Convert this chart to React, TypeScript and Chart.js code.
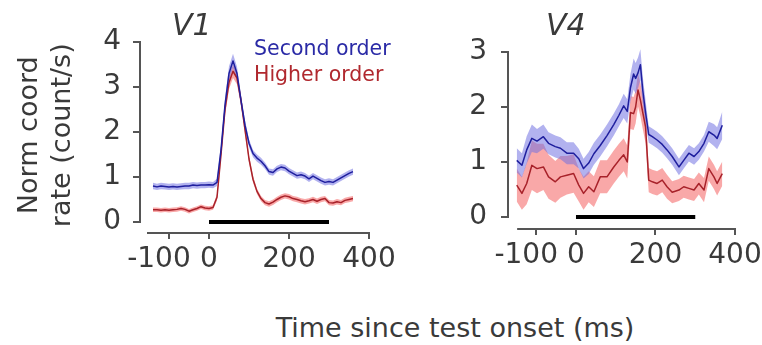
import React, { useEffect, useRef } from "react";
import { Chart, registerables } from "chart.js";

Chart.register(...registerables);

const FONT = "'DejaVu Sans', 'Liberation Sans', Arial, sans-serif";
const TEXT = "#3a3a3a";
const AXIS = "#555555";
const BLUE = "#1f1f9e";
const RED = "#a8222a";
const BLUE_BAND = "rgba(115,115,225,0.55)";
const RED_BAND = "rgba(245,110,110,0.6)";
const TICK_FONT = 28;

const xTicks = [-100, 0, 200, 400];
const v1YTicks = [0, 1, 2, 3, 4];
const v4YTicks = [0, 1, 2, 3];
const stimulusBar = [0, 300];

const v1Times = [-140, -130, -120, -110, -100, -90, -80, -70, -60, -50, -40, -30, -20, -10, 0, 10, 20, 30, 40, 50, 60, 70, 80, 90, 100, 110, 120, 130, 140, 150, 160, 170, 180, 190, 200, 210, 220, 230, 240, 250, 260, 270, 280, 290, 300, 310, 320, 330, 340, 350, 360];
const v1Second = [0.80, 0.78, 0.80, 0.79, 0.78, 0.79, 0.78, 0.79, 0.80, 0.80, 0.82, 0.81, 0.82, 0.82, 0.83, 0.82, 0.88, 1.60, 2.60, 3.30, 3.58, 3.30, 2.70, 2.15, 1.75, 1.52, 1.42, 1.35, 1.25, 1.12, 1.10, 1.18, 1.22, 1.20, 1.13, 1.08, 1.03, 1.05, 1.02, 0.96, 1.02, 0.97, 0.92, 0.88, 0.90, 0.88, 0.93, 0.98, 1.03, 1.08, 1.12];
const v1SecondSem = [0.07, 0.07, 0.07, 0.07, 0.07, 0.07, 0.07, 0.07, 0.07, 0.07, 0.07, 0.07, 0.07, 0.07, 0.07, 0.07, 0.08, 0.12, 0.15, 0.16, 0.16, 0.15, 0.13, 0.11, 0.09, 0.08, 0.08, 0.08, 0.07, 0.07, 0.07, 0.07, 0.07, 0.07, 0.07, 0.07, 0.07, 0.07, 0.07, 0.07, 0.07, 0.07, 0.07, 0.07, 0.07, 0.07, 0.07, 0.07, 0.07, 0.07, 0.07];
const v1Higher = [0.27, 0.27, 0.26, 0.27, 0.26, 0.27, 0.28, 0.30, 0.28, 0.24, 0.27, 0.30, 0.34, 0.31, 0.30, 0.32, 0.55, 1.50, 2.50, 3.10, 3.35, 3.20, 2.70, 2.05, 1.40, 0.95, 0.68, 0.52, 0.43, 0.40, 0.44, 0.50, 0.55, 0.58, 0.56, 0.52, 0.50, 0.47, 0.45, 0.47, 0.50, 0.46, 0.50, 0.52, 0.43, 0.42, 0.45, 0.43, 0.48, 0.50, 0.52];
const v1HigherSem = [0.05, 0.05, 0.05, 0.05, 0.05, 0.05, 0.05, 0.05, 0.05, 0.05, 0.05, 0.05, 0.05, 0.05, 0.05, 0.05, 0.07, 0.11, 0.14, 0.15, 0.15, 0.14, 0.12, 0.10, 0.08, 0.07, 0.06, 0.06, 0.06, 0.06, 0.06, 0.06, 0.06, 0.06, 0.06, 0.06, 0.06, 0.06, 0.06, 0.06, 0.06, 0.06, 0.06, 0.06, 0.06, 0.06, 0.06, 0.06, 0.06, 0.06, 0.06];

const v4Times = [-149, -136, -124, -111, -98, -82, -69, -52, -39, -23, -6, 7, 19, 32, 45, 61, 78, 95, 108, 120, 129, 137, 145, 150, 156, 162, 168, 175, 183, 192, 204, 217, 229, 242, 259, 271, 284, 297, 309, 322, 334, 347, 355, 368];
const v4Second = [1.03, 0.94, 1.22, 1.43, 1.38, 1.46, 1.34, 1.28, 1.25, 1.16, 1.16, 1.06, 0.88, 0.98, 1.15, 1.30, 1.48, 1.68, 1.85, 2.02, 1.92, 2.35, 2.60, 2.52, 2.62, 2.77, 2.30, 1.90, 1.50, 1.46, 1.40, 1.32, 1.22, 1.10, 0.91, 1.03, 1.16, 1.10, 1.19, 1.34, 1.55, 1.49, 1.43, 1.67];
const v4SecondSem = [0.22, 0.22, 0.25, 0.25, 0.22, 0.22, 0.20, 0.20, 0.20, 0.20, 0.20, 0.18, 0.18, 0.20, 0.20, 0.20, 0.20, 0.20, 0.20, 0.22, 0.22, 0.25, 0.28, 0.28, 0.28, 0.28, 0.25, 0.22, 0.15, 0.15, 0.15, 0.15, 0.15, 0.15, 0.15, 0.15, 0.15, 0.15, 0.15, 0.15, 0.18, 0.20, 0.20, 0.25];
const v4Higher = [0.58, 0.43, 0.61, 0.94, 0.88, 0.91, 0.73, 0.64, 0.73, 0.76, 0.79, 0.58, 0.43, 0.55, 0.46, 0.73, 0.73, 0.91, 1.03, 1.13, 1.00, 1.90, 1.88, 2.00, 2.31, 2.13, 1.90, 1.64, 0.67, 0.64, 0.61, 0.67, 0.55, 0.45, 0.49, 0.55, 0.52, 0.49, 0.61, 0.49, 0.88, 0.73, 0.61, 0.79];
const v4HigherSem = [0.30, 0.30, 0.38, 0.45, 0.45, 0.42, 0.40, 0.38, 0.38, 0.35, 0.35, 0.30, 0.30, 0.28, 0.28, 0.30, 0.30, 0.30, 0.30, 0.30, 0.30, 0.30, 0.30, 0.30, 0.30, 0.30, 0.30, 0.30, 0.22, 0.22, 0.22, 0.22, 0.22, 0.20, 0.20, 0.20, 0.20, 0.20, 0.20, 0.22, 0.22, 0.22, 0.22, 0.22];

// Detached axis lines (x axis from xFrom to last tick, y axis from first to last tick)
const axisLines = {
  id: "axisLines",
  afterDraw(chart: any, _args: any, opts: any) {
    const { ctx, chartArea, scales } = chart;
    const x = scales.x;
    const y = scales.y;
    ctx.save();
    ctx.strokeStyle = AXIS;
    ctx.lineWidth = 2;
    ctx.beginPath();
    ctx.moveTo(x.getPixelForValue(opts.xFrom), chartArea.bottom);
    ctx.lineTo(x.getPixelForValue(opts.xTo) + 1, chartArea.bottom);
    ctx.moveTo(chartArea.left, y.getPixelForValue(opts.yFrom) + 1);
    ctx.lineTo(chartArea.left, y.getPixelForValue(opts.yTo) - 1);
    ctx.stroke();
    ctx.restore();
  },
};

// X tick labels: digits centred on the tick, minus sign hanging to the left
const xTickLabels = {
  id: "xTickLabels",
  afterDraw(chart: any) {
    const { ctx, chartArea, scales } = chart;
    const x = scales.x;
    ctx.save();
    ctx.font = `${TICK_FONT}px ${FONT}`;
    ctx.fillStyle = TEXT;
    ctx.textBaseline = "middle";
    ctx.textAlign = "right";
    for (const t of x.ticks) {
      const v = t.value;
      const digits = ctx.measureText(String(Math.abs(v))).width;
      const shift = v < 0 ? -5 : 0;
      ctx.fillText(String(v), x.getPixelForValue(v) + digits / 2 + shift, chartArea.bottom + 27);
    }
    ctx.restore();
  },
};

type PanelProps = {
  left: number;
  width: number;
  height: number;
  times: number[];
  second: number[];
  secondSem: number[];
  higher: number[];
  higherSem: number[];
  xMin: number;
  xMax: number;
  xAxisFrom: number;
  yMin: number;
  yMax: number;
  yTicks: number[];
  yAxisWidth: number;
  yTickPad: number;
  padTop: number;
  padRight: number;
  xAxisHeight: number;
  yTitle?: string[];
};

function Panel(p: PanelProps) {
  const ref = useRef<HTMLCanvasElement | null>(null);
  useEffect(() => {
    if (!ref.current) return;
    const pts = (vals: number[], sem?: number[], sign = 0) =>
      p.times.map((t, i) => ({ x: t, y: vals[i] + (sem ? sign * sem[i] : 0) }));
    const base = { pointRadius: 0, tension: 0, borderJoinStyle: "round" as const };
    const chart = new Chart(ref.current, {
      type: "line",
      data: {
        datasets: [
          { ...base, label: "Second order", data: pts(p.second), borderColor: BLUE, borderWidth: 1.5, fill: false },
          { ...base, label: "Higher order", data: pts(p.higher), borderColor: RED, borderWidth: 1.5, fill: false },
          { ...base, label: "Test", data: stimulusBar.map((x) => ({ x, y: 0 })), borderColor: "#000", borderWidth: 4, fill: false },
          { ...base, label: "s+", data: pts(p.second, p.secondSem, 1), borderColor: "transparent", borderWidth: 0, fill: false },
          { ...base, label: "s-", data: pts(p.second, p.secondSem, -1), borderColor: "transparent", borderWidth: 0, fill: "-1", backgroundColor: BLUE_BAND },
          { ...base, label: "h+", data: pts(p.higher, p.higherSem, 1), borderColor: "transparent", borderWidth: 0, fill: false },
          { ...base, label: "h-", data: pts(p.higher, p.higherSem, -1), borderColor: "transparent", borderWidth: 0, fill: "-1", backgroundColor: RED_BAND },
        ],
      },
      options: {
        responsive: false,
        animation: false,
        events: [],
        layout: { padding: { left: 0, top: p.padTop, right: p.padRight, bottom: 0 } },
        plugins: {
          legend: { display: false },
          tooltip: { enabled: false },
          axisLines: { xFrom: p.xAxisFrom, xTo: xTicks[xTicks.length - 1], yFrom: p.yTicks[0], yTo: p.yTicks[p.yTicks.length - 1] },
        } as any,
        scales: {
          x: {
            type: "linear",
            min: p.xMin,
            max: p.xMax,
            afterBuildTicks: (s: any) => {
              s.ticks = xTicks.map((v) => ({ value: v }));
            },
            afterFit: (s: any) => {
              s.height = p.xAxisHeight;
            },
            grid: { display: true, drawOnChartArea: false, drawTicks: true, tickLength: 6, color: AXIS, lineWidth: 2 },
            border: { display: false },
            ticks: { display: false, autoSkip: false },
          },
          y: {
            type: "linear",
            min: p.yMin,
            max: p.yMax,
            afterBuildTicks: (s: any) => {
              s.ticks = p.yTicks.map((v) => ({ value: v }));
            },
            afterFit: (s: any) => {
              s.width = p.yAxisWidth;
            },
            grid: { display: true, drawOnChartArea: false, drawTicks: true, tickLength: 7, color: AXIS, lineWidth: 2 },
            border: { display: false },
            ticks: { font: { family: FONT, size: TICK_FONT }, color: TEXT, padding: p.yTickPad, autoSkip: false },
            title: p.yTitle
              ? { display: true, text: p.yTitle, font: { family: FONT, size: 27, lineHeight: 33 / 27 }, color: TEXT, padding: { top: 13.5, bottom: 0 } }
              : { display: false },
          },
        },
      },
      plugins: [axisLines, xTickLabels],
    });
    return () => chart.destroy();
  }, []);
  return (
    <canvas
      ref={ref}
      width={p.width}
      height={p.height}
      style={{ position: "absolute", left: p.left, top: 0, width: p.width, height: p.height }}
    />
  );
}

const textBase: React.CSSProperties = { position: "absolute", fontFamily: FONT, whiteSpace: "nowrap", margin: 0 };

export default function App() {
  return (
    <div style={{ position: "fixed", left: 0, top: 0, width: 762, height: 345, background: "#fff", overflow: "hidden" }}>
      <Panel
        left={0}
        width={400}
        height={295}
        times={v1Times}
        second={v1Second}
        secondSem={v1SecondSem}
        higher={v1Higher}
        higherSem={v1HigherSem}
        xMin={-172.5}
        xMax={405}
        xAxisFrom={-155}
        yMin={-0.245}
        yMax={4.1}
        yTicks={v1YTicks}
        yAxisWidth={140}
        yTickPad={12}
        padTop={37.5}
        padRight={29}
        xAxisHeight={62}
        yTitle={["Norm coord", "rate (count/s)"]}
      />
      <Panel
        left={400}
        width={362}
        height={295}
        times={v4Times}
        second={v4Second}
        secondSem={v4SecondSem}
        higher={v4Higher}
        higherSem={v4HigherSem}
        xMin={-171}
        xMax={405}
        xAxisFrom={-148}
        yMin={-0.218}
        yMax={3.1}
        yTicks={v4YTicks}
        yAxisWidth={108}
        yTickPad={14}
        padTop={46.5}
        padRight={25}
        xAxisHeight={66}
      />
      <div style={{ ...textBase, left: 172, top: 9.6, fontSize: 30, lineHeight: "30px", fontStyle: "italic", color: TEXT }}>V1</div>
      <div style={{ ...textBase, left: 546, top: 9.6, fontSize: 30, lineHeight: "30px", fontStyle: "italic", color: TEXT }}>V4</div>
      <div style={{ ...textBase, left: 254, top: 38.2, fontSize: 20.5, lineHeight: "20.5px", color: "#2a2aa6" }}>Second order</div>
      <div style={{ ...textBase, left: 254, top: 63.7, fontSize: 20.5, lineHeight: "20.5px", color: "#b0282e" }}>Higher order</div>
      <div style={{ ...textBase, left: 205, width: 500, textAlign: "center", top: 314, fontSize: 27, lineHeight: "27px", color: TEXT }}>
        Time since test onset (ms)
      </div>
    </div>
  );
}
